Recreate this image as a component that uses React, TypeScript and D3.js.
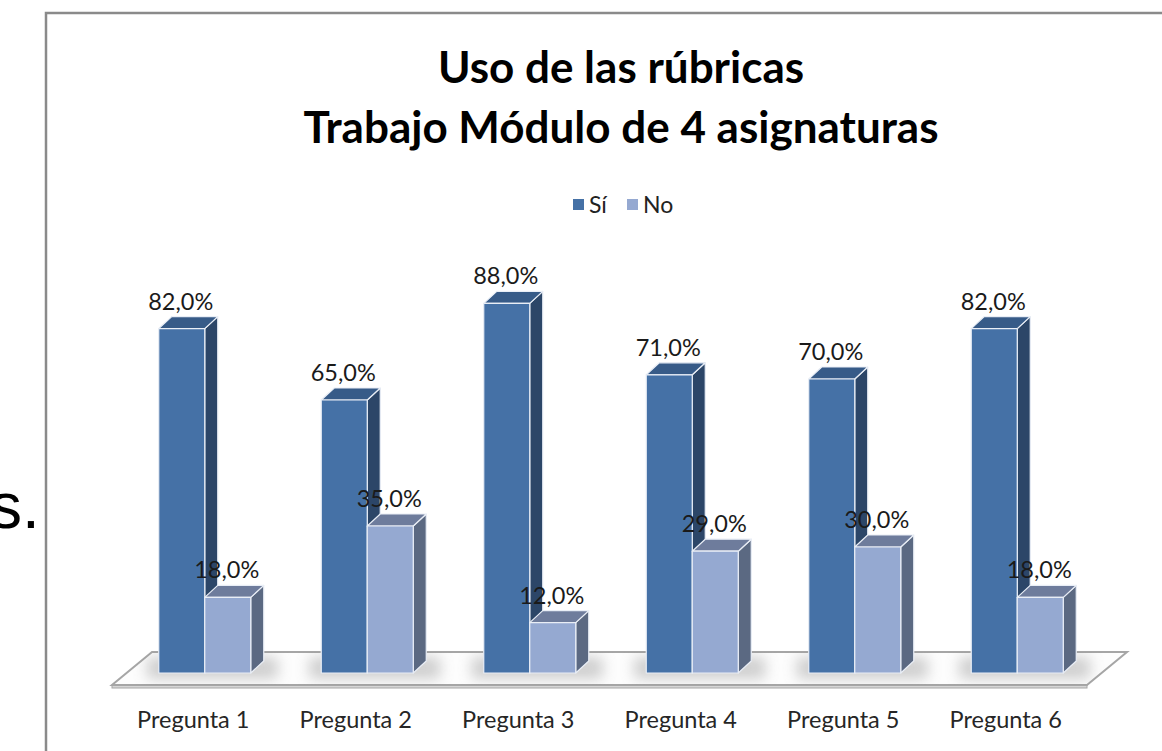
import React, { useEffect, useRef } from "react";
import * as d3 from "d3";

const categories = ["Pregunta 1", "Pregunta 2", "Pregunta 3", "Pregunta 4", "Pregunta 5", "Pregunta 6"];
const siValues = [82, 65, 88, 71, 70, 82];
const noValues = [18, 35, 12, 29, 30, 18];
const seriesNames = ["Sí", "No"];
const titleLines = ["Uso de las rúbricas", "Trabajo Módulo de 4 asignaturas"];

const W = 1162;
const H = 751;
// floor of the 3d plot
const floorY = 685;
const floorX: [number, number] = [112, 1087];
const floorDepth = [40, -33];
// bar geometry
const barW = 46;
const depth = [13, -12];
const baseY = 673;

const palette = [
  { front: "#4571A6", side: "#2C4668", top: "#375B88" },
  { front: "#95A9D1", side: "#5B6982", top: "#6E7C9C" },
];

const fmt = (v: number) => v.toFixed(1).replace(".", ",") + "%";

const App = () => {
  const ref = useRef<SVGSVGElement>(null);

  useEffect(() => {
    const svg = d3.select(ref.current);
    svg.selectAll("*").remove();

    const defs = svg.append("defs");
    defs
      .append("filter")
      .attr("id", "blur")
      .attr("x", "-50%")
      .attr("y", "-50%")
      .attr("width", "200%")
      .attr("height", "200%")
      .append("feGaussianBlur")
      .attr("stdDeviation", 7);

    const floorPts: [number, number][] = [
      [floorX[0], floorY],
      [floorX[1], floorY],
      [floorX[1] + floorDepth[0], floorY + floorDepth[1]],
      [floorX[0] + floorDepth[0], floorY + floorDepth[1]],
    ];
    defs
      .append("clipPath")
      .attr("id", "floorClip")
      .append("polygon")
      .attr("points", floorPts.map((p) => p.join(",")).join(" "));

    // frame of the chart area
    svg
      .append("path")
      .attr("d", `M46,${H} V13 H${W}`)
      .attr("fill", "none")
      .attr("stroke", "#8a8a8a")
      .attr("stroke-width", 2.5);

    // stray text to the left of the chart
    svg
      .append("text")
      .attr("x", -10)
      .attr("y", 528)
      .attr("font-family", "Liberation Sans, Arial, sans-serif")
      .attr("font-size", 64)
      .attr("fill", "#000")
      .text("s.");

    // title
    svg
      .append("g")
      .selectAll("text")
      .data(titleLines)
      .enter()
      .append("text")
      .attr("x", 621)
      .attr("y", (d, i) => 83 + i * 60)
      .attr("text-anchor", "middle")
      .attr("font-family", "Lato, sans-serif")
      .attr("font-weight", "bold")
      .attr("font-size", 44)
      .attr("fill", "#000")
      .text((d) => d);

    // legend
    const legend = svg.append("g").attr("font-family", "Lato, sans-serif").attr("font-size", 23);
    const legendX = [573, 627];
    seriesNames.forEach((name, i) => {
      legend
        .append("rect")
        .attr("x", legendX[i])
        .attr("y", 199)
        .attr("width", 11)
        .attr("height", 11)
        .attr("fill", palette[i].front);
      legend
        .append("text")
        .attr("x", legendX[i] + 16)
        .attr("y", 213)
        .attr("fill", "#222")
        .text(name);
    });

    // floor
    svg
      .append("rect")
      .attr("x", floorX[0])
      .attr("y", floorY)
      .attr("width", floorX[1] - floorX[0])
      .attr("height", 3)
      .attr("fill", "#d6d6d6")
      .attr("stroke", "#a6a6a6")
      .attr("stroke-width", 1);
    svg
      .append("polygon")
      .attr("points", floorPts.map((p) => p.join(",")).join(" "))
      .attr("fill", "#fdfdfd")
      .attr("stroke", "#a6a6a6")
      .attr("stroke-width", 2);

    const x = d3
      .scaleBand<string>()
      .domain(categories)
      .range([floorX[0] + floorDepth[0] / 2 - 2, floorX[1] + floorDepth[0] / 2 - 2]);
    const xFront = d3.scaleBand<string>().domain(categories).range(floorX);
    const y = d3.scaleLinear().domain([0, 100]).range([baseY, baseY - 420]);

    const pairOffset = (x.bandwidth() - 2 * barW - depth[0]) / 2;
    const barX = (c: string, s: number) => (x(c) as number) + pairOffset + s * barW;

    // soft shadows on the floor
    const shadows = svg.append("g").attr("clip-path", "url(#floorClip)");
    shadows
      .selectAll("rect")
      .data(categories)
      .enter()
      .append("rect")
      .attr("x", (c) => barX(c, 0) - 12)
      .attr("y", baseY + depth[1] - 4)
      .attr("width", 2 * barW + depth[0] + 26)
      .attr("height", -depth[1] + 10)
      .attr("fill", "#8a8a8a")
      .attr("opacity", 0.4)
      .attr("filter", "url(#blur)");

    const bars = categories.flatMap((c, i) => [
      { c, s: 0, v: siValues[i] },
      { c, s: 1, v: noValues[i] },
    ]);

    const g = svg.append("g").attr("stroke", "#e9eef6").attr("stroke-width", 1.2).attr("stroke-linejoin", "round");
    bars.forEach((b) => {
      const x0 = barX(b.c, b.s);
      const x1 = x0 + barW;
      const yt = y(b.v);
      const [dx, dy] = depth;
      const col = palette[b.s];
      g.append("polygon")
        .attr("points", `${x1},${baseY} ${x1 + dx},${baseY + dy} ${x1 + dx},${yt + dy} ${x1},${yt}`)
        .attr("fill", col.side);
      g.append("polygon")
        .attr("points", `${x0},${yt} ${x1},${yt} ${x1 + dx},${yt + dy} ${x0 + dx},${yt + dy}`)
        .attr("fill", col.top);
      g.append("rect")
        .attr("x", x0)
        .attr("y", yt)
        .attr("width", barW)
        .attr("height", baseY - yt)
        .attr("fill", col.front);
    });

    // value labels
    svg
      .append("g")
      .selectAll("text")
      .data(bars)
      .enter()
      .append("text")
      .attr("x", (b) => barX(b.c, b.s) + barW / 2 - 1)
      .attr("y", (b) => y(b.v) + depth[1] - 7)
      .attr("text-anchor", "middle")
      .attr("font-family", "Lato, sans-serif")
      .attr("font-size", 23.5)
      .attr("fill", "#1a1a1a")
      .text((b) => fmt(b.v));

    // category labels
    svg
      .append("g")
      .selectAll("text")
      .data(categories)
      .enter()
      .append("text")
      .attr("x", (c) => (xFront(c) as number) + xFront.bandwidth() / 2)
      .attr("y", 728)
      .attr("text-anchor", "middle")
      .attr("font-family", "Lato, sans-serif")
      .attr("font-size", 23.5)
      .attr("fill", "#262626")
      .text((c) => c);
  }, []);

  return (
    <svg
      ref={ref}
      width={W}
      height={H}
      style={{ position: "absolute", left: 0, top: 0, background: "#fff" }}
    ></svg>
  );
};

export default App;
